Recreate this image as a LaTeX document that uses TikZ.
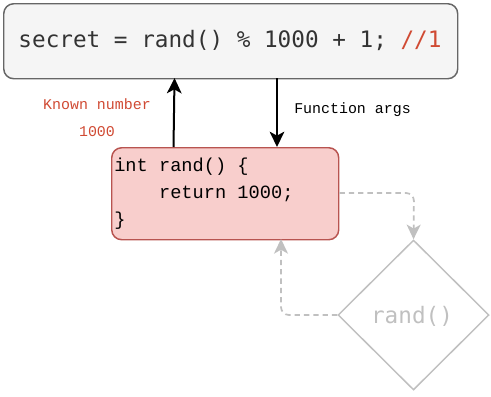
\documentclass[tikz,border=0pt]{standalone}
\usepackage{fontspec}
\newfontfamily\djmono{DejaVu Sans Mono}
\newfontfamily\lmono{Liberation Mono}
\usetikzlibrary{shapes.geometric,arrows.meta}
\definecolor{topfill}{HTML}{F5F5F5}
\definecolor{topdraw}{HTML}{666666}
\definecolor{toptext}{HTML}{333333}
\definecolor{redtxt}{HTML}{D04A33}
\definecolor{redfill}{HTML}{F8CECC}
\definecolor{reddraw}{HTML}{B85450}
\definecolor{ghost}{HTML}{C0C0C0}
\begin{document}
\begin{tikzpicture}[x=0.75pt,y=-0.75pt,
  box/.style={rounded corners=7.5pt, line width=1.1pt},
  arr/.style={-{Stealth[length=11.5pt,width=11pt,inset=3pt]}, line width=1.5pt},
  ghostarr/.style={-{Stealth[length=11pt,width=10.5pt,inset=3pt]}, line width=1.3pt, draw=ghost, dashed, dash pattern=on 4pt off 3pt, rounded corners=6pt},
  lbl/.style={font=\lmono\fontsize{11.2pt}{13pt}\selectfont, inner sep=0pt}]
\useasboundingbox (0,0) rectangle (491,396);
% top box
\node[box, draw=topdraw, fill=topfill, minimum width=454*0.75pt, minimum height=75*0.75pt, anchor=north west, inner sep=0pt] (top) at (3,3) {};
\node[font=\djmono\fontsize{17pt}{20pt}\selectfont, text=toptext, inner sep=0pt] (toptxt) at (230,40.5) {secret = rand() \% 1000 + 1; \textcolor{redtxt}{//1}};
% red box
\node[box, draw=reddraw, fill=redfill, minimum width=227*0.75pt, minimum height=92*0.75pt, anchor=north west, inner sep=0pt] (fn) at (111,147) {};
\node[font=\lmono\fontsize{14pt}{20pt}\selectfont, anchor=west, inner sep=0pt] (l1) at (114,167) {int rand() \{};
\node[font=\lmono\fontsize{14pt}{20pt}\selectfont, anchor=west, inner sep=0pt] (l2) at (114,193.5) {\phantom{int }return 1000;};
\node[font=\lmono\fontsize{14pt}{20pt}\selectfont, anchor=west, inner sep=0pt] (l3) at (114,220.5) {\}};
% diamond
\node[diamond, draw=ghost, line width=1.1pt, minimum width=151*0.75pt, minimum height=150*0.75pt, inner sep=0pt, aspect=1.0] (dia) at (413.5,315) {};
\node[font=\djmono\fontsize{17pt}{20pt}\selectfont, text=ghost, inner sep=0pt] (diatxt) at (412,316) {rand()};
% labels
\node[lbl, text=redtxt] (kn) at (97,104) {Known number};
\node[lbl, text=redtxt] (kv) at (97,131.5) {1000};
\node[lbl, anchor=west] (fa) at (294,109.5) {Function args};
% arrows
\coordinate (upS) at (173.5,147);
\coordinate (upE) at (174.5,78);
\draw[arr] (upS) -- (upE);
\coordinate (dnS) at (277,78);
\coordinate (dnE) at (277,147);
\draw[arr] (dnS) -- (dnE);
\draw[ghostarr] (fn.east |- 0,193) -- (414,193) -- (dia.north);
\draw[ghostarr] (dia.west) -- (281,315) -- (281,239);
\end{tikzpicture}
\end{document}
